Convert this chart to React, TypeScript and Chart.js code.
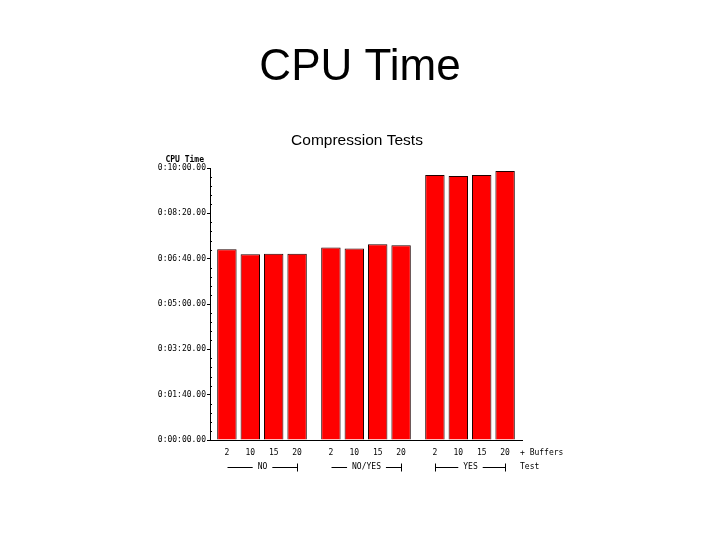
import React, { useEffect, useRef } from "react";
import { Chart, registerables } from "chart.js";

Chart.register(...registerables);

const pageTitle = "CPU Time";
const chartTitle = "Compression Tests";
const yAxisTitle = "CPU Time";
const groups = ["NO", "NO/YES", "YES"];
const buffers = ["2", "10", "15", "20"];
// CPU time in seconds, one array per buffer count, across the groups
const cpuBuf2 = [420.6, 424.4, 584.5];
const cpuBuf10 = [409.6, 422.2, 582.3];
const cpuBuf15 = [411.1, 431.7, 584.5];
const cpuBuf20 = [411.1, 429.5, 593.3];
const yMin = 0;
const yMax = 600;
const yStep = 100;
const yMinorStep = 20;
const bracketLeftTick = [false, false, true];
const bracketRightTick = [true, true, true];
const buffersLabel = "+ Buffers";
const testLabel = "Test";

const pad2 = (n: number) => String(Math.floor(n)).padStart(2, "0");
const fmtTime = (s: number) => `0:${pad2(s / 60)}:${pad2(s % 60)}.00`;

const MONO = "'DejaVu Sans Mono', monospace";
const SANS = "'Liberation Sans', Arial, sans-serif";

const overlay = {
  id: "overlay",
  afterDraw(chart: any) {
    const ctx = chart.ctx as CanvasRenderingContext2D;
    const area = chart.chartArea;
    const yScale = chart.scales.y;
    ctx.save();
    ctx.fillStyle = "#000";
    ctx.strokeStyle = "#000";
    ctx.lineWidth = 1;

    // page title
    ctx.font = `44px ${SANS}`;
    ctx.textAlign = "center";
    ctx.textBaseline = "alphabetic";
    ctx.fillText(pageTitle, 360, 80);

    // chart title
    ctx.font = `15.5px ${SANS}`;
    ctx.fillText(chartTitle, 357, 145);

    // y axis title
    ctx.font = `bold 8px ${MONO}`;
    ctx.textAlign = "right";
    ctx.fillText(yAxisTitle, area.left - 6, 162);

    // minor ticks
    ctx.beginPath();
    for (let v = yMin; v <= yMax; v += yMinorStep) {
      if (v % yStep === 0) continue;
      const py = Math.round(yScale.getPixelForValue(v)) + 0.5;
      ctx.moveTo(area.left, py);
      ctx.lineTo(area.left + 2, py);
    }
    ctx.stroke();

    // bar labels
    ctx.font = `8px ${MONO}`;
    ctx.textAlign = "center";
    ctx.textBaseline = "middle";
    const rowY1 = area.bottom + 13;
    const rowY2 = area.bottom + 27;
    buffers.forEach((b, i) => {
      const meta = chart.getDatasetMeta(i);
      meta.data.forEach((el: any) => {
        ctx.fillText(b, el.x, rowY1);
      });
    });

    // group brackets
    const first = chart.getDatasetMeta(0);
    const last = chart.getDatasetMeta(buffers.length - 1);
    groups.forEach((g, j) => {
      const x1 = Math.round(first.data[j].x) + 0.5;
      const x2 = Math.round(last.data[j].x) + 0.5;
      const mid = (x1 + x2) / 2;
      const tw = ctx.measureText(g).width;
      const yy = Math.round(rowY2) + 0.5;
      ctx.fillText(g, mid, rowY2);
      ctx.beginPath();
      ctx.moveTo(x1, yy);
      ctx.lineTo(mid - tw / 2 - 5, yy);
      ctx.moveTo(mid + tw / 2 + 5, yy);
      ctx.lineTo(x2, yy);
      if (bracketLeftTick[j]) {
        ctx.moveTo(x1, yy - 4);
        ctx.lineTo(x1, yy + 4);
      }
      if (bracketRightTick[j]) {
        ctx.moveTo(x2, yy - 4);
        ctx.lineTo(x2, yy + 4);
      }
      ctx.stroke();
    });

    ctx.textAlign = "left";
    ctx.fillText(buffersLabel, area.right - 2, rowY1);
    ctx.fillText(testLabel, area.right - 2, rowY2);
    ctx.restore();
  },
};

export default function App() {
  const canvasRef = useRef<HTMLCanvasElement | null>(null);

  useEffect(() => {
    const canvas = canvasRef.current;
    if (!canvas) return;
    const series = [cpuBuf2, cpuBuf10, cpuBuf15, cpuBuf20];
    const chart = new Chart(canvas, {
      type: "bar",
      data: {
        labels: groups,
        datasets: series.map((d, i) => ({
          label: buffers[i],
          data: d,
          backgroundColor: "#ff0000",
          borderColor: "#200000",
          borderWidth: 1,
          categoryPercentage: 0.9,
          barPercentage: 0.83,
        })),
      },
      options: {
        animation: false,
        responsive: false,
        maintainAspectRatio: false,
        layout: { padding: { left: 149, top: 168, right: 198, bottom: 0 } },
        plugins: {
          legend: { display: false },
          title: { display: false },
          tooltip: { enabled: false },
        },
        scales: {
          x: {
            type: "category",
            offset: true,
            grid: { display: false },
            ticks: { display: false },
            border: { display: true, color: "#000", width: 1 },
            afterFit: (scale: any) => {
              scale.height = 100;
            },
          },
          y: {
            min: yMin,
            max: yMax,
            grid: {
              display: true,
              drawOnChartArea: false,
              drawTicks: true,
              tickLength: 3,
              color: "#000",
            },
            border: { display: true, color: "#000", width: 1 },
            ticks: {
              stepSize: yStep,
              color: "#000",
              padding: 1,
              font: { family: MONO, size: 8 },
              callback: (v: any) => fmtTime(Number(v)),
            },
            afterFit: (scale: any) => {
              scale.width = 61;
            },
          },
        },
      },
      plugins: [overlay],
    });
    return () => chart.destroy();
  }, []);

  return (
    <div style={{ position: "absolute", left: 0, top: 0, width: 720, height: 540, background: "#fff" }}>
      <canvas ref={canvasRef} width={720} height={540} style={{ width: 720, height: 540 }} />
    </div>
  );
}
